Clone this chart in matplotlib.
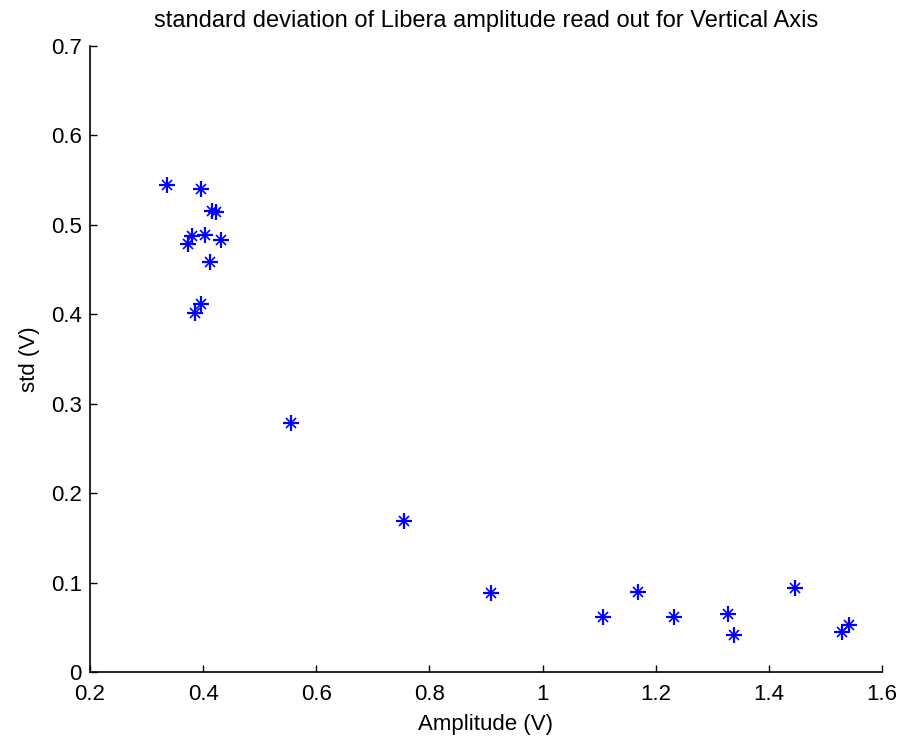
import matplotlib
matplotlib.use("Agg")
import matplotlib.pyplot as plt

amplitude = [0.336, 0.396, 0.415, 0.423, 0.380, 0.403, 0.432, 0.374, 0.412, 0.396, 0.386,
             0.555, 0.755, 0.909, 1.106, 1.168, 1.232, 1.328, 1.338, 1.447, 1.529, 1.542]
std_v = [0.545, 0.540, 0.516, 0.514, 0.487, 0.489, 0.483, 0.479, 0.458, 0.411, 0.401,
         0.278, 0.169, 0.088, 0.061, 0.0895, 0.061, 0.065, 0.041, 0.094, 0.045, 0.053]

xticks = [0.2, 0.4, 0.6, 0.8, 1.0, 1.2, 1.4, 1.6]
xticklabels = ["0.2", "0.4", "0.6", "0.8", "1", "1.2", "1.4", "1.6"]
yticks = [0, 0.1, 0.2, 0.3, 0.4, 0.5, 0.6, 0.7]
yticklabels = ["0", "0.1", "0.2", "0.3", "0.4", "0.5", "0.6", "0.7"]

plt.rcParams['font.family'] = ['Liberation Sans', 'DejaVu Sans']

fig = plt.figure(figsize=(9.02, 7.40), dpi=100)
ax = fig.add_axes([90/902, 68/740, 792/902, 626/740])

ax.plot(amplitude, std_v, linestyle='none', marker='+', markersize=12,
        markeredgewidth=1.6, color=(0, 0, 1))
ax.plot(amplitude, std_v, linestyle='none', marker='x', markersize=7,
        markeredgewidth=1.2, color=(0, 0, 1))

ax.set_xlim(0.2, 1.6)
ax.set_ylim(0, 0.7)
ax.set_xticks(xticks)
ax.set_xticklabels(xticklabels)
ax.set_yticks(yticks)
ax.set_yticklabels(yticklabels)
ax.tick_params(direction='in', length=5, width=1, labelsize=16)
ax.tick_params(axis='x', pad=9)
ax.tick_params(axis='y', pad=6)
for s in ['top', 'right']:
    ax.spines[s].set_visible(False)
for s in ['left', 'bottom']:
    ax.spines[s].set_linewidth(1.2)

ax.set_xlabel("Amplitude (V)", fontsize=16, labelpad=6)
ax.set_ylabel("std (V)", fontsize=16, labelpad=8)
ax.set_title("standard deviation of Libera amplitude read out for Vertical Axis",
             fontsize=17, pad=14)

fig.savefig("out.png", dpi=100)
